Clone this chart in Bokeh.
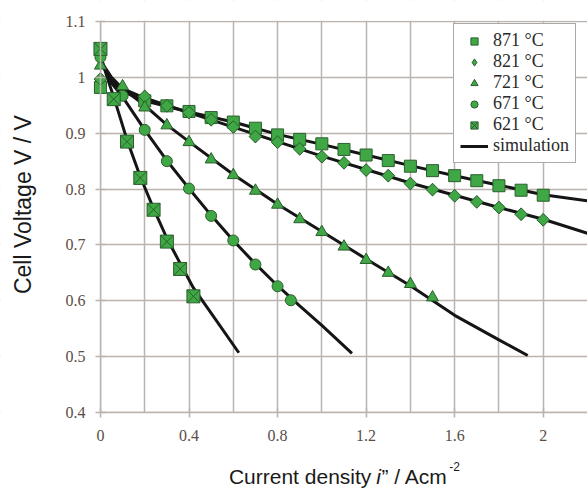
import math
from bokeh.plotting import figure
from bokeh.models import Range1d, FixedTicker, Label, Legend, LegendItem, BoxAnnotation
from bokeh.embed import file_html
from bokeh.resources import INLINE

# ---- data: measured points ----
x871 = [0, 0.2, 0.3, 0.4, 0.5, 0.6, 0.7, 0.8, 0.9, 1.0, 1.1, 1.2, 1.3, 1.4, 1.5, 1.6, 1.7, 1.8, 1.9, 2.0]
y871 = [0.982, 0.958, 0.949, 0.939, 0.928, 0.920, 0.909, 0.897, 0.889, 0.881, 0.871, 0.861, 0.851, 0.841, 0.833, 0.824, 0.815, 0.806, 0.798, 0.789]

x821 = [0, 0.2, 0.3, 0.4, 0.5, 0.6, 0.7, 0.8, 0.9, 1.0, 1.1, 1.2, 1.3, 1.4, 1.5, 1.6, 1.7, 1.8, 1.9, 2.0]
y821 = [0.997, 0.966, 0.949, 0.937, 0.924, 0.911, 0.894, 0.884, 0.872, 0.858, 0.847, 0.834, 0.824, 0.810, 0.799, 0.788, 0.777, 0.767, 0.755, 0.745]

x721 = [0, 0.1, 0.2, 0.3, 0.4, 0.5, 0.6, 0.7, 0.8, 0.9, 1.0, 1.1, 1.2, 1.3, 1.4, 1.5]
y721 = [1.021, 0.984, 0.946, 0.914, 0.884, 0.853, 0.825, 0.797, 0.772, 0.746, 0.723, 0.697, 0.673, 0.650, 0.630, 0.606]

x671 = [0, 0.1, 0.2, 0.3, 0.4, 0.5, 0.6, 0.7, 0.8, 0.86]
y671 = [1.036, 0.967, 0.906, 0.850, 0.801, 0.752, 0.708, 0.665, 0.626, 0.601]

x621 = [0, 0.06, 0.12, 0.18, 0.24, 0.30, 0.36, 0.42]
y621 = [1.051, 0.961, 0.885, 0.820, 0.763, 0.706, 0.657, 0.608]

# ---- data: simulation curves ----
sx871 = [0, 0.05, 0.1, 0.2, 0.4, 0.6, 0.8, 1.0, 1.2, 1.4, 1.6, 1.8, 2.0, 2.2]
sy871 = [1.03, 0.99, 0.975, 0.958, 0.938, 0.920, 0.898, 0.880, 0.861, 0.842, 0.824, 0.807, 0.790, 0.779]

sx821 = [0, 0.05, 0.1, 0.2, 0.4, 0.6, 0.8, 1.0, 1.2, 1.4, 1.6, 1.8, 2.0, 2.2]
sy821 = [1.03, 0.995, 0.98, 0.963, 0.937, 0.911, 0.885, 0.859, 0.835, 0.811, 0.789, 0.767, 0.746, 0.721]

sx721 = [0, 0.05, 0.1, 0.2, 0.3, 0.4, 0.6, 0.8, 1.0, 1.2, 1.4, 1.6, 1.8, 1.93]
sy721 = [1.03, 1.0, 0.98, 0.95, 0.915, 0.885, 0.826, 0.773, 0.724, 0.675, 0.627, 0.574, 0.530, 0.502]

sx671 = [0, 0.05, 0.1, 0.2, 0.3, 0.4, 0.5, 0.6, 0.7, 0.8, 0.9, 1.0, 1.136]
sy671 = [1.03, 0.99, 0.965, 0.906, 0.851, 0.801, 0.753, 0.708, 0.666, 0.627, 0.591, 0.556, 0.506]

sx621 = [0, 0.03, 0.06, 0.12, 0.18, 0.24, 0.30, 0.36, 0.42, 0.5, 0.625]
sy621 = [1.04, 1.0, 0.965, 0.888, 0.822, 0.765, 0.712, 0.667, 0.623, 0.578, 0.507]

series_labels = ["871 °C", "821 °C", "721 °C", "671 °C", "621 °C"]
sim_label = "simulation"

xtick_vals = [0, 0.4, 0.8, 1.2, 1.6, 2.0]
xtick_labels = ["0", "0.4", "0.8", "1.2", "1.6", "2"]
ytick_vals = [0.4, 0.5, 0.6, 0.7, 0.8, 0.9, 1.0, 1.1]
ytick_labels = ["0.4", "0.5", "0.6", "0.7", "0.8", "0.9", "1", "1.1"]
xgrid_vals = [0, 0.2, 0.4, 0.6, 0.8, 1.0, 1.2, 1.4, 1.6, 1.8, 2.0]

X_MIN, X_MAX = 0, 2.2
Y_MIN, Y_MAX = 0.4, 1.1

GREEN = "#3fa845"
EDGE = "#2b5e2e"
GRID = "#bbb3ad"
TICK_TXT = "#5a4e46"

# whole canvas is the frame; axes pinned at data locations
p = figure(width=587, height=488, output_backend="svg", toolbar_location=None,
           x_range=Range1d(-0.4515, 2.2), y_range=Range1d(0.264, 1.1376),
           min_border=0, background_fill_color="white", border_fill_color="white")
p.outline_line_color = None

p.xgrid.ticker = FixedTicker(ticks=xgrid_vals)
p.ygrid.ticker = FixedTicker(ticks=ytick_vals)
for g in (p.xgrid, p.ygrid):
    g.grid_line_color = GRID
    g.grid_line_width = 1.5

# white masks so that the grid only covers the plotting area
mask_kw = dict(fill_color="white", fill_alpha=1, line_alpha=0, level="underlay")
p.add_layout(BoxAnnotation(right=X_MIN, **mask_kw))
p.add_layout(BoxAnnotation(top=Y_MIN, **mask_kw))
p.add_layout(BoxAnnotation(bottom=Y_MAX + 0.0015, **mask_kw))

p.xaxis.fixed_location = Y_MIN
p.yaxis.fixed_location = X_MIN
p.xaxis.bounds = (X_MIN, X_MAX)
p.yaxis.bounds = (Y_MIN, Y_MAX)
p.xaxis.ticker = FixedTicker(ticks=xtick_vals)
p.yaxis.ticker = FixedTicker(ticks=ytick_vals)
p.xaxis.major_label_overrides = {v: l for v, l in zip(xtick_vals, xtick_labels)}
p.yaxis.major_label_overrides = {v: l for v, l in zip(ytick_vals, ytick_labels)}
for ax in (p.xaxis, p.yaxis):
    ax.axis_line_color = GRID
    ax.axis_line_width = 1.5
    ax.major_tick_line_color = GRID
    ax.major_tick_line_width = 1.5
    ax.major_tick_in = 5
    ax.major_tick_out = 5
    ax.minor_tick_line_color = None
    ax.major_label_text_font = "Liberation Serif"
    ax.major_label_text_font_size = "16px"
    ax.major_label_text_color = TICK_TXT
p.xaxis.major_label_standoff = 12
p.yaxis.major_label_standoff = 10

# simulation lines
sims = [(sx871, sy871), (sx821, sy821), (sx721, sy721), (sx671, sy671), (sx621, sy621)]
sim_renderers = []
for sx, sy in sims:
    r = p.line(sx, sy, line_color="#151515", line_width=3)
    sim_renderers.append(r)

# diamond glyph for the 821 series (used as legend swatch; covered by the turned squares)
diamond_swatch = p.scatter(x821, y821, marker="diamond", size=12, fill_color=GREEN,
                           line_color=EDGE, line_width=1)

# measured markers (diamond drawn as a square turned by 45 degrees)
marker_specs = [
    (x871, y871, "square", 12, 0),
    (x821, y821, "square", 9, math.pi / 4),
    (x721, y721, "triangle", 12, 0),
    (x671, y671, "circle", 11, 0),
    (x621, y621, "square_x", 13, 0),
]
data_renderers = []
for (mx, my, mk, sz, ang) in marker_specs:
    r = p.scatter(mx, my, marker=mk, size=sz, angle=ang, fill_color=GREEN,
                  line_color=EDGE, line_width=1)
    data_renderers.append(r)

legend_renderers = [data_renderers[0], diamond_swatch] + data_renderers[2:]
items = [LegendItem(label=lab, renderers=[r]) for lab, r in zip(series_labels, legend_renderers)]
items.append(LegendItem(label=sim_label, renderers=[sim_renderers[0]]))

legend = Legend(items=items, location=(453, 325))
legend.label_text_font = "Liberation Serif"
legend.label_text_font_size = "18px"
legend.label_text_color = "#2a2a2a"
legend.border_line_color = "#555555"
legend.border_line_width = 1
legend.background_fill_color = "white"
legend.background_fill_alpha = 1
legend.glyph_width = 28
legend.glyph_height = 18
legend.label_height = 18
legend.spacing = 0
legend.padding = 6
legend.margin = 0
legend.label_standoff = 5
p.add_layout(legend)

# axis titles (x title built from pieces: italic i, superscript -2)
TITLE_FONT = "Liberation Sans"
p.add_layout(Label(x=-0.352, y=0.778, text="Cell Voltage  V / V", angle=math.pi / 2,
                   text_align="center", text_baseline="middle", text_font=TITLE_FONT,
                   text_font_size="23px", text_color="#1a1a1a"))
base_y = 0.2855
parts = [
    dict(x=1.2235, text="Current density", align="right", style="normal", size="21px", y=base_y),
    dict(x=1.2460, text="i", align="left", style="italic", size="21px", y=base_y),
    dict(x=1.2690, text="” / Acm", align="left", style="normal", size="21px", y=base_y),
    dict(x=1.5756, text="-2", align="left", style="normal", size="12px", y=0.3034),
]
for pt in parts:
    p.add_layout(Label(x=pt["x"], y=pt["y"], text=pt["text"], text_align=pt["align"],
                       text_baseline="alphabetic", text_font=TITLE_FONT,
                       text_font_size=pt["size"], text_font_style=pt["style"],
                       text_color="#1a1a1a"))

open("out.html", "w").write(file_html(p, INLINE))
